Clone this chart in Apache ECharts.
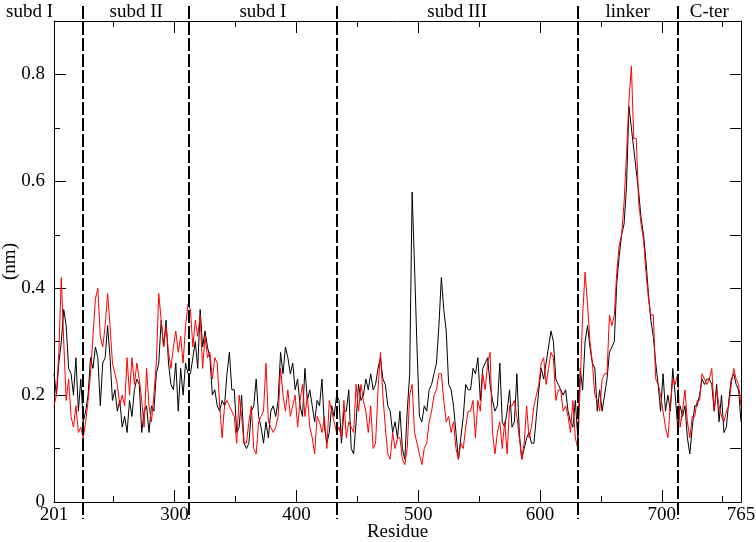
<!DOCTYPE html>
<html>
<head>
<meta charset="utf-8">
<script src="https://cdn.jsdelivr.net/npm/echarts@6/dist/echarts.min.js"></script>
<style>
html,body{margin:0;padding:0;background:#fff;}
#chart{width:756px;height:542px;}
</style>
</head>
<body>
<div id="chart"></div>
<script>
// Residue numbering: first residue and sampling step of the value arrays below
const residueStart = 201;
const residueStep = 2;

// RMSF (nm), black trace, residues 201..765 every 2 residues
const rmsfBlack = [
  0.24,0.20,0.26,0.30,0.36,0.33,0.25,0.24,0.20,0.27,0.17,0.23,0.15,0.17,0.20,0.27,0.25,0.29,0.27,0.18,
  0.26,0.27,0.33,0.27,0.19,0.21,0.17,0.19,0.14,0.16,0.13,0.19,0.16,0.21,0.23,0.22,0.13,0.17,0.18,0.13,
  0.18,0.17,0.24,0.26,0.34,0.29,0.34,0.26,0.22,0.21,0.26,0.17,0.25,0.20,0.26,0.24,0.24,0.27,0.30,0.25,
  0.36,0.29,0.32,0.29,0.27,0.20,0.21,0.18,0.17,0.19,0.18,0.24,0.28,0.21,0.21,0.13,0.14,0.20,0.11,0.10,
  0.11,0.17,0.18,0.23,0.16,0.14,0.11,0.15,0.12,0.17,0.18,0.16,0.19,0.28,0.24,0.29,0.27,0.24,0.26,0.21,
  0.23,0.18,0.16,0.25,0.19,0.21,0.18,0.15,0.19,0.18,0.23,0.14,0.11,0.13,0.18,0.16,0.20,0.19,0.11,0.17,
  0.17,0.21,0.10,0.09,0.15,0.22,0.19,0.20,0.23,0.21,0.24,0.21,0.22,0.25,0.27,0.23,0.22,0.18,0.17,0.13,
  0.15,0.12,0.17,0.10,0.08,0.17,0.24,0.58,0.44,0.29,0.16,0.15,0.18,0.17,0.21,0.22,0.24,0.26,0.33,0.42,
  0.36,0.32,0.22,0.21,0.18,0.13,0.08,0.12,0.16,0.22,0.21,0.21,0.25,0.24,0.27,0.19,0.25,0.26,0.27,0.22,
  0.19,0.17,0.18,0.26,0.15,0.14,0.17,0.21,0.14,0.15,0.24,0.13,0.08,0.10,0.12,0.13,0.11,0.11,0.16,0.21,
  0.25,0.23,0.26,0.29,0.32,0.30,0.23,0.22,0.21,0.20,0.21,0.17,0.15,0.14,0.19,0.12,0.25,0.21,0.30,0.33,
  0.29,0.26,0.25,0.17,0.21,0.17,0.20,0.23,0.28,0.29,0.30,0.41,0.46,0.50,0.52,0.59,0.74,0.70,0.66,0.62,
  0.58,0.53,0.50,0.45,0.39,0.34,0.31,0.26,0.22,0.17,0.24,0.17,0.20,0.17,0.25,0.20,0.14,0.18,0.16,0.18,
  0.12,0.09,0.14,0.18,0.18,0.20,0.23,0.22,0.23,0.23,0.22,0.17,0.22,0.15,0.20,0.13,0.14,0.19,0.23,0.24,
  0.22,0.21,0.15
];

// RMSF (nm), red trace, residues 201..765 every 2 residues
const rmsfRed = [
  0.18,0.20,0.28,0.42,0.30,0.19,0.23,0.16,0.14,0.18,0.13,0.14,0.12,0.15,0.19,0.24,0.31,0.38,0.40,0.31,
  0.29,0.33,0.39,0.33,0.26,0.24,0.22,0.18,0.20,0.18,0.27,0.20,0.27,0.22,0.26,0.23,0.19,0.14,0.25,0.18,
  0.15,0.20,0.26,0.39,0.34,0.29,0.33,0.28,0.25,0.29,0.32,0.28,0.31,0.26,0.33,0.37,0.36,0.29,0.34,0.31,
  0.35,0.25,0.31,0.27,0.28,0.23,0.27,0.26,0.18,0.12,0.18,0.19,0.18,0.17,0.16,0.11,0.20,0.16,0.11,0.11,
  0.15,0.18,0.10,0.09,0.15,0.16,0.17,0.26,0.15,0.14,0.13,0.14,0.16,0.25,0.20,0.17,0.21,0.16,0.18,0.20,
  0.14,0.19,0.22,0.16,0.20,0.14,0.12,0.09,0.16,0.15,0.13,0.16,0.10,0.19,0.17,0.15,0.13,0.14,0.12,0.19,
  0.12,0.15,0.14,0.13,0.22,0.17,0.22,0.19,0.17,0.13,0.18,0.10,0.11,0.21,0.28,0.20,0.14,0.09,0.08,0.13,
  0.10,0.12,0.12,0.08,0.07,0.10,0.20,0.22,0.13,0.11,0.09,0.07,0.10,0.11,0.15,0.17,0.20,0.21,0.24,0.24,
  0.19,0.15,0.16,0.13,0.15,0.10,0.08,0.11,0.10,0.14,0.17,0.17,0.19,0.12,0.19,0.17,0.24,0.21,0.26,0.28,
  0.13,0.09,0.13,0.15,0.10,0.15,0.09,0.18,0.18,0.19,0.16,0.12,0.08,0.11,0.18,0.12,0.14,0.18,0.20,0.22,
  0.26,0.27,0.22,0.25,0.28,0.27,0.19,0.21,0.21,0.17,0.18,0.16,0.13,0.19,0.12,0.10,0.22,0.35,0.43,0.37,
  0.30,0.26,0.20,0.19,0.17,0.23,0.24,0.24,0.35,0.33,0.35,0.43,0.48,0.50,0.56,0.65,0.75,0.815,0.68,0.68,
  0.56,0.52,0.49,0.43,0.38,0.35,0.35,0.23,0.22,0.20,0.17,0.14,0.12,0.18,0.23,0.22,0.24,0.14,0.17,0.21,
  0.15,0.12,0.16,0.16,0.19,0.19,0.24,0.23,0.22,0.23,0.25,0.17,0.21,0.18,0.16,0.15,0.17,0.18,0.22,0.25,
  0.23,0.22,0.18
];

// Domain boundaries (residue) and names
const domainBounds = [201, 225, 312, 433, 631, 713, 765];
const domainNames = ['subd I', 'subd II', 'subd I', 'subd III', 'linker', 'C-ter'];

// Axis ticks / labels
const xLabelValues = [201, 300, 400, 500, 600, 700, 765];
const xMajorTicks = [300, 400, 500, 600, 700];
const xMinorTicks = [250, 350, 450, 550, 650, 750];
const yLabelValues = [0, 0.2, 0.4, 0.6, 0.8];
const yMinorTicks = [0.1, 0.3, 0.5, 0.7];
const yRightTicks = [0.1, 0.2, 0.3, 0.4, 0.5, 0.6, 0.7, 0.8];

const residues = rmsfBlack.map((_, i) => residueStart + i * residueStep);
const blackData = residues.map((r, i) => [r, rmsfBlack[i]]);
const redData = residues.map((r, i) => [r, rmsfRed[i]]);

const FONT = 'Liberation Serif';
const chart = echarts.init(document.getElementById('chart'), null, {renderer: 'canvas'});

const baseX = {
  type: 'value', min: 201, max: 765, gridIndex: 0,
  splitLine: {show: false},
  axisLine: {show: false, onZero: false, lineStyle: {color: '#000', width: 1}},
  axisLabel: {show: false},
  axisTick: {show: false}
};
const baseY = {
  type: 'value', min: 0, max: 0.9, gridIndex: 0,
  splitLine: {show: false},
  axisLine: {show: false, onZero: false, lineStyle: {color: '#000', width: 1}},
  axisLabel: {show: false},
  axisTick: {show: false}
};

const option = {
  animation: false,
  backgroundColor: '#fff',
  grid: {left: 54, right: 15, top: 21, bottom: 40, containLabel: false, outerBoundsMode: 'none'},
  xAxis: [
    Object.assign({}, baseX, {
      position: 'bottom',
      axisLine: {show: true, onZero: false, lineStyle: {color: '#000', width: 1}},
      axisTick: {show: true, inside: true, length: 12, customValues: xMajorTicks, lineStyle: {color: '#000', width: 1}},
      axisLabel: {show: true, customValues: xLabelValues, color: '#000', fontFamily: FONT, fontSize: 19, margin: 4},
      name: 'Residue', nameLocation: 'middle', nameGap: 21, nameMoveOverlap: false,
      nameTextStyle: {color: '#000', fontFamily: FONT, fontSize: 19}
    }),
    Object.assign({}, baseX, {
      position: 'bottom',
      axisTick: {show: true, inside: true, length: 6, customValues: xMinorTicks, lineStyle: {color: '#000', width: 1}}
    }),
    Object.assign({}, baseX, {
      position: 'top',
      axisLine: {show: true, onZero: false, lineStyle: {color: '#000', width: 1}},
      axisTick: {show: true, inside: true, length: 12, customValues: xMajorTicks, lineStyle: {color: '#000', width: 1}}
    }),
    Object.assign({}, baseX, {
      position: 'top',
      axisTick: {show: true, inside: true, length: 6, customValues: xMinorTicks, lineStyle: {color: '#000', width: 1}}
    })
  ],
  yAxis: [
    Object.assign({}, baseY, {
      position: 'left',
      axisLine: {show: true, onZero: false, lineStyle: {color: '#000', width: 1}},
      axisTick: {show: true, inside: true, length: 12, customValues: yLabelValues, lineStyle: {color: '#000', width: 1}},
      axisLabel: {show: true, customValues: yLabelValues, color: '#000', fontFamily: FONT, fontSize: 19, margin: 9,
        formatter: v => (v === 0 ? '0' : String(+v.toFixed(1)))},
      name: '(nm)', nameLocation: 'middle', nameGap: 34, nameRotate: 90, nameMoveOverlap: false,
      nameTextStyle: {color: '#000', fontFamily: FONT, fontSize: 19}
    }),
    Object.assign({}, baseY, {
      position: 'left',
      axisTick: {show: true, inside: true, length: 6, customValues: yMinorTicks, lineStyle: {color: '#000', width: 1}}
    }),
    Object.assign({}, baseY, {
      position: 'right',
      axisLine: {show: true, onZero: false, lineStyle: {color: '#000', width: 1}},
      axisTick: {show: true, inside: true, length: 11, customValues: yRightTicks, lineStyle: {color: '#000', width: 1}}
    })
  ],
  series: [
    {
      name: 'black', type: 'line', xAxisIndex: 0, yAxisIndex: 0,
      data: blackData, showSymbol: false, symbol: 'none',
      lineStyle: {color: '#000000', width: 1}, z: 3
    },
    {
      name: 'red', type: 'line', xAxisIndex: 0, yAxisIndex: 0,
      data: redData, showSymbol: false, symbol: 'none',
      lineStyle: {color: '#ff0000', width: 1}, z: 4
    },
    {
      name: 'bounds', type: 'custom', xAxisIndex: 0, yAxisIndex: 0, clip: false, z: 5,
      data: domainBounds.slice(1, -1).map(v => [v]),
      encode: {x: 0},
      renderItem: function (params, api) {
        const x = Math.round(api.coord([api.value(0), 0])[0]);
        const cs = params.coordSys;
        return {
          type: 'line',
          shape: {x1: x, y1: cs.y - 15, x2: x, y2: cs.y + cs.height + 17},
          style: {stroke: '#000', lineWidth: 2, lineDash: [13, 3]}
        };
      }
    },
    {
      name: 'domains', type: 'custom', xAxisIndex: 0, yAxisIndex: 0, clip: false, z: 6,
      data: domainNames.map((n, i) => [domainBounds[i], domainBounds[i + 1], n]),
      renderItem: function (params, api) {
        const cs = params.coordSys;
        const a = api.coord([api.value(0), 0])[0];
        const b = api.coord([api.value(1), 0])[0];
        const first = params.dataIndex === 0;
        return {
          type: 'text',
          style: {
            text: domainNames[params.dataIndex],
            x: first ? a - 1 : (a + b) / 2,
            y: cs.y - 9,
            textAlign: first ? 'right' : 'center',
            textVerticalAlign: 'middle',
            fill: '#000',
            font: '19px "' + FONT + '"'
          }
        };
      }
    }
  ]
};
chart.setOption(option);
</script>
</body>
</html>
